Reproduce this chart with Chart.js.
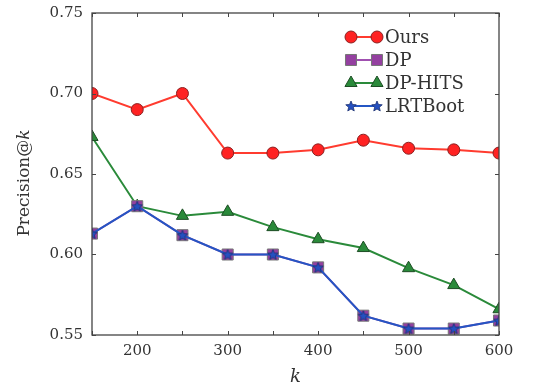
<!DOCTYPE html>
<html>
<head>
<meta charset="utf-8">
<script src="https://cdn.jsdelivr.net/npm/chart.js@4"></script>
<style>
  html, body { margin: 0; padding: 0; background: #fff; }
  #wrap { width: 533px; height: 389px; }
</style>
</head>
<body>
<div id="wrap"><canvas id="myChart" width="533" height="389"></canvas></div>
<script>
const kValues = [150, 200, 250, 300, 350, 400, 450, 500, 550, 600];
const oursValues = [0.700, 0.690, 0.700, 0.663, 0.663, 0.665, 0.671, 0.666, 0.665, 0.663];
const dpValues = [0.613, 0.630, 0.612, 0.600, 0.600, 0.592, 0.562, 0.554, 0.554, 0.559];
const dpHitsValues = [0.673, 0.630, 0.624, 0.6265, 0.617, 0.6095, 0.604, 0.5915, 0.581, 0.566];
const lrtBootValues = [0.613, 0.630, 0.612, 0.600, 0.600, 0.592, 0.562, 0.554, 0.554, 0.559];

const SERIF = "'DejaVu Serif', 'Liberation Serif', serif";

// filled five point star for LRTBoot
function makeStar(r, fill, stroke) {
  const c = document.createElement("canvas");
  const s = Math.ceil(r * 2 + 3);
  c.width = s; c.height = s;
  const g = c.getContext("2d");
  g.beginPath();
  for (let i = 0; i < 10; i++) {
    const rad = i % 2 === 0 ? r : r * 0.45;
    const a = -Math.PI / 2 + i * Math.PI / 5;
    const px = s / 2 + rad * Math.cos(a);
    const py = s / 2 + rad * Math.sin(a) + 0.5;
    if (i === 0) g.moveTo(px, py); else g.lineTo(px, py);
  }
  g.closePath();
  g.fillStyle = fill;
  g.fill();
  g.lineWidth = 0.8;
  g.strokeStyle = stroke;
  g.stroke();
  return c;
}
const starImg = makeStar(5.5, "#2550c0", "#1a2f70");

const series = [
  { label: "Ours", data: oursValues, color: "#ff3b2f", fill: "#ff2222", edge: "#8a2020", style: "circle", radius: 6, order: 3 },
  { label: "DP", data: dpValues, color: "#a050b0", fill: "#9440a0", edge: "#777777", style: "rect", radius: 7.8, order: 1 },
  { label: "DP-HITS", data: dpHitsValues, color: "#2a8a3a", fill: "#2a8a3a", edge: "#1d4d24", style: "triangle", radius: 7, order: 2 },
  { label: "LRTBoot", data: lrtBootValues, color: "#2456c4", fill: "#2550c0", edge: "#1a2f70", style: starImg, radius: 5, order: 0 }
];

const framePlugin = {
  id: "frame",
  afterDraw(chart) {
    const { ctx, chartArea: a, scales } = chart;
    ctx.save();
    // axes box
    ctx.strokeStyle = "#444";
    ctx.lineWidth = 1.3;
    ctx.strokeRect(a.left, a.top, a.right - a.left, a.bottom - a.top);
    // inward ticks
    ctx.lineWidth = 1;
    ctx.beginPath();
    scales.x.ticks.forEach(t => {
      const px = Math.round(scales.x.getPixelForValue(t.value)) + 0.5;
      ctx.moveTo(px, a.bottom); ctx.lineTo(px, a.bottom - 4);
      ctx.moveTo(px, a.top); ctx.lineTo(px, a.top + 4);
    });
    scales.y.ticks.forEach(t => {
      const py = Math.round(scales.y.getPixelForValue(t.value)) + 0.5;
      ctx.moveTo(a.left, py); ctx.lineTo(a.left + 4, py);
      ctx.moveTo(a.right, py); ctx.lineTo(a.right - 4, py);
    });
    ctx.stroke();

    // axis titles
    ctx.fillStyle = "#333";
    ctx.textBaseline = "middle";
    ctx.save();
    ctx.translate(25, 183);
    ctx.rotate(-Math.PI / 2);
    const t1 = "Precision@";
    ctx.font = "17px " + SERIF;
    const w1 = ctx.measureText(t1).width;
    ctx.font = "italic 17px " + SERIF;
    const w2 = ctx.measureText("k").width;
    ctx.textAlign = "left";
    ctx.font = "17px " + SERIF;
    ctx.fillText(t1, -(w1 + w2) / 2, 0);
    ctx.font = "italic 17px " + SERIF;
    ctx.fillText("k", -(w1 + w2) / 2 + w1, 0);
    ctx.restore();
    ctx.textAlign = "center";
    ctx.font = "italic 18px " + SERIF;
    ctx.fillText("k", (a.left + a.right) / 2, 377);

    // legend
    const rows = [37, 60, 83, 106];
    series.forEach((s, i) => {
      const y = rows[i];
      const x0 = 351, x1 = 377;
      ctx.strokeStyle = s.color;
      ctx.lineWidth = 2;
      ctx.beginPath(); ctx.moveTo(x0, y); ctx.lineTo(x1, y); ctx.stroke();
      [x0, x1].forEach(x => {
        if (typeof s.style === "string") {
          ctx.fillStyle = s.fill;
          ctx.strokeStyle = s.edge;
          ctx.lineWidth = 1;
          Chart.helpers.drawPoint(ctx, { pointStyle: s.style, radius: s.radius, rotation: 0, borderWidth: 1 }, x, y);
        } else {
          ctx.drawImage(s.style, x - s.style.width / 2, y - s.style.height / 2);
        }
      });
      ctx.fillStyle = "#333";
      ctx.textAlign = "left";
      ctx.font = "18px " + SERIF;
      ctx.fillText(s.label, 385, y + 1);
    });
    ctx.restore();
  }
};

const chartCtx = document.getElementById("myChart").getContext("2d");
new Chart(chartCtx, {
  type: "line",
  data: {
    datasets: series.map(s => ({
      label: s.label,
      data: kValues.map((k, i) => ({ x: k, y: s.data[i] })),
      borderColor: s.color,
      borderWidth: 2,
      backgroundColor: s.fill,
      pointBackgroundColor: s.fill,
      pointBorderColor: s.edge,
      pointBorderWidth: 1,
      pointStyle: s.style,
      pointRadius: s.radius,
      pointHoverRadius: s.radius,
      tension: 0,
      order: s.order,
      clip: 0
    }))
  },
  options: {
    responsive: false,
    animation: false,
    events: [],
    layout: { padding: { top: 13, right: 34, left: 0, bottom: 0 } },
    plugins: { legend: { display: false }, tooltip: { enabled: false } },
    scales: {
      x: {
        type: "linear",
        min: 150,
        max: 600,
        grid: { display: false, drawTicks: false },
        border: { display: false },
        ticks: {
          stepSize: 50,
          padding: 7,
          maxRotation: 0,
          autoSkip: false,
          color: "#333",
          font: { family: SERIF, size: 15 },
          callback: v => (v % 100 === 0 ? String(v) : "")
        },
        afterFit: scale => { scale.height = 54; scale.paddingRight = 0; scale.paddingLeft = 0; }
      },
      y: {
        min: 0.55,
        max: 0.75,
        grid: { display: false, drawTicks: false },
        border: { display: false },
        ticks: {
          stepSize: 0.05,
          padding: 9,
          color: "#333",
          font: { family: SERIF, size: 15 },
          callback: v => v.toFixed(2)
        },
        afterFit: scale => { scale.width = 92; scale.paddingTop = 0; scale.paddingBottom = 0; }
      }
    }
  },
  plugins: [framePlugin]
});
</script>
</body>
</html>
